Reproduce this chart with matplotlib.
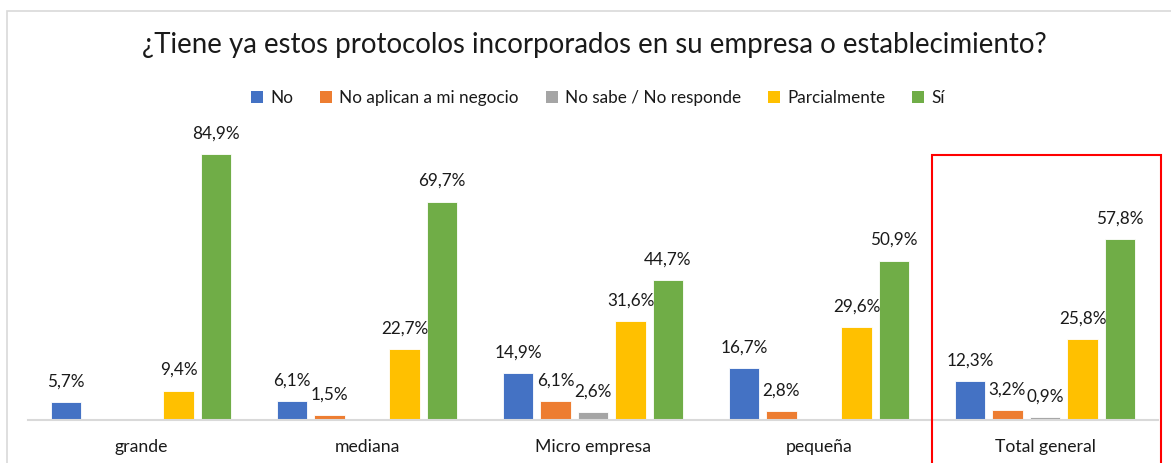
import numpy as np
import matplotlib
matplotlib.use("Agg")
import matplotlib.pyplot as plt
from matplotlib.patches import Rectangle, Patch

plt.rcParams['font.family'] = ['Lato', 'DejaVu Sans']

categorias = ["grande", "mediana", "Micro empresa", "pequeña", "Total general"]
series = ["No", "No aplican a mi negocio", "No sabe / No responde", "Parcialmente", "Sí"]
colores = ["#4472C4", "#ED7D31", "#A5A5A5", "#FFC000", "#70AD47"]

no = [5.7, 6.1, 14.9, 16.7, 12.3]
no_aplican = [None, 1.5, 6.1, 2.8, 3.2]
no_sabe = [None, None, 2.6, None, 0.9]
parcialmente = [9.4, 22.7, 31.6, 29.6, 25.8]
si = [84.9, 69.7, 44.7, 50.9, 57.8]
valores = [no, no_aplican, no_sabe, parcialmente, si]

W, H = 1171, 463
fig = plt.figure(figsize=(W / 100, H / 100), dpi=100)

# borde del area del grafico
fig.patches.append(Rectangle((7 / W, -0.1), 1.2, (H - 11) / H + 0.1, transform=fig.transFigure,
                             fill=False, edgecolor="#D9D9D9", linewidth=1.2))

ax = fig.add_axes([28 / W, 43 / H, 1130 / W, 282 / H])
ax.set_xlim(-0.5, 4.5)
ax.set_ylim(0, 90)

x = np.arange(len(categorias))
ancho = 0.133
paso = 0.166
for i, (serie, vals, col) in enumerate(zip(series, valores, colores)):
    for j, v in enumerate(vals):
        if v is None:
            continue
        xi = x[j] + (i - 2) * paso
        ax.bar(xi, v, width=ancho, color=col, edgecolor="white", linewidth=0.6)
        ax.annotate(f"{v:.1f}%".replace(".", ","), (xi, v), xytext=(0, 9),
                    textcoords="offset points", ha="center", va="bottom",
                    fontsize=12.3, color="#1A1A1A")

for s in ["top", "right", "left"]:
    ax.spines[s].set_visible(False)
ax.spines["bottom"].set_color("#D9D9D9")
ax.spines["bottom"].set_linewidth(1.5)
ax.set_yticks([])
ax.set_xticks(x)
ax.set_xticklabels(categorias, fontsize=12.7, color="#1A1A1A")
ax.tick_params(axis="x", length=0, pad=14)

fig.text(594 / W, 1 - 45 / H, "¿Tiene ya estos protocolos incorporados en su empresa o establecimiento?",
         ha="center", va="center", fontsize=19.9, color="#1A1A1A")

handles = [Patch(facecolor=c) for c in colores]
fig.legend(handles, series, loc="center", bbox_to_anchor=(598 / W, 1 - 98 / H), ncol=5,
           frameon=False, fontsize=12.3, handlelength=0.7, handleheight=0.7,
           handletextpad=0.4, columnspacing=1.6, labelcolor="#1A1A1A")

# recuadro rojo sobre "Total general"
fig.patches.append(Rectangle((932 / W, -0.05), 229 / W, (H - 155) / H + 0.05,
                             transform=fig.transFigure, fill=False,
                             edgecolor="#FF0000", linewidth=1.5))

fig.savefig("out.png", dpi=100)
